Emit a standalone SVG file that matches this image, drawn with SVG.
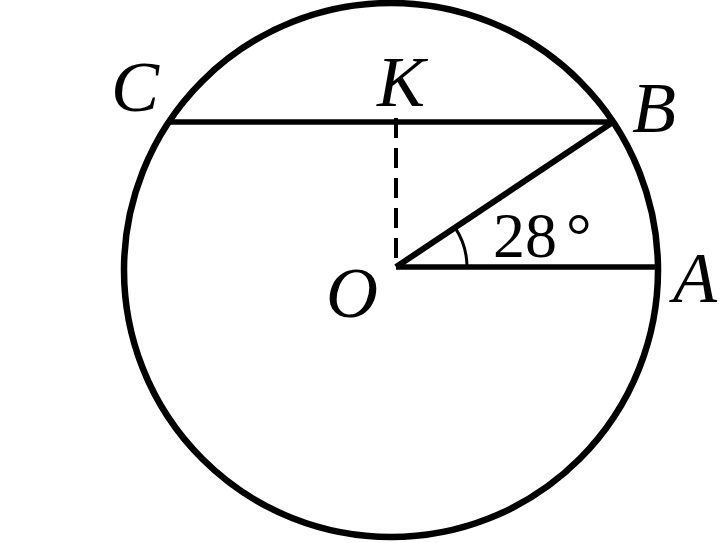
<svg xmlns="http://www.w3.org/2000/svg" width="720" height="543" viewBox="0 0 720 543">
<style>
.ln{stroke:#000;fill:none;stroke-linecap:butt}
.lbl{font-family:"Liberation Serif","Times New Roman",serif;font-style:italic;font-size:72px;fill:#000}
.num{font-family:"Liberation Serif","Times New Roman",serif;font-size:64px;fill:#000}
</style>
<rect width="720" height="543" fill="#fff"/>
<g id="circle">
<circle cx="391" cy="270" r="267" class="ln" stroke-width="6.5"/>
</g>
<g id="connectors">
<line id="CB" x1="170" y1="122" x2="613" y2="122" class="ln" stroke-width="5.5"/>
<line id="OB" x1="396" y1="267" x2="613" y2="122" class="ln" stroke-width="6"/>
<line id="OA" x1="396" y1="267" x2="657" y2="267" class="ln" stroke-width="5.5"/>
<line id="OK" x1="396" y1="118" x2="396" y2="262" class="ln" stroke-width="4" stroke-dasharray="20 10"/>
<path id="angle" d="M 455 227.6 A 71 71 0 0 1 467 267" class="ln" stroke-width="3"/>
</g>
<g id="labels">
<text id="C" class="lbl" x="111" y="111">C</text>
<text id="K" class="lbl" x="377" y="106">K</text>
<text id="B" class="lbl" x="632" y="132">B</text>
<text id="O" class="lbl" x="326" y="317">O</text>
<text id="A" class="lbl" x="673" y="302">A</text>
<text id="ang" class="num" x="493" y="257">28</text>
<text id="deg" class="num" x="566" y="257">°</text>
</g>
</svg>
